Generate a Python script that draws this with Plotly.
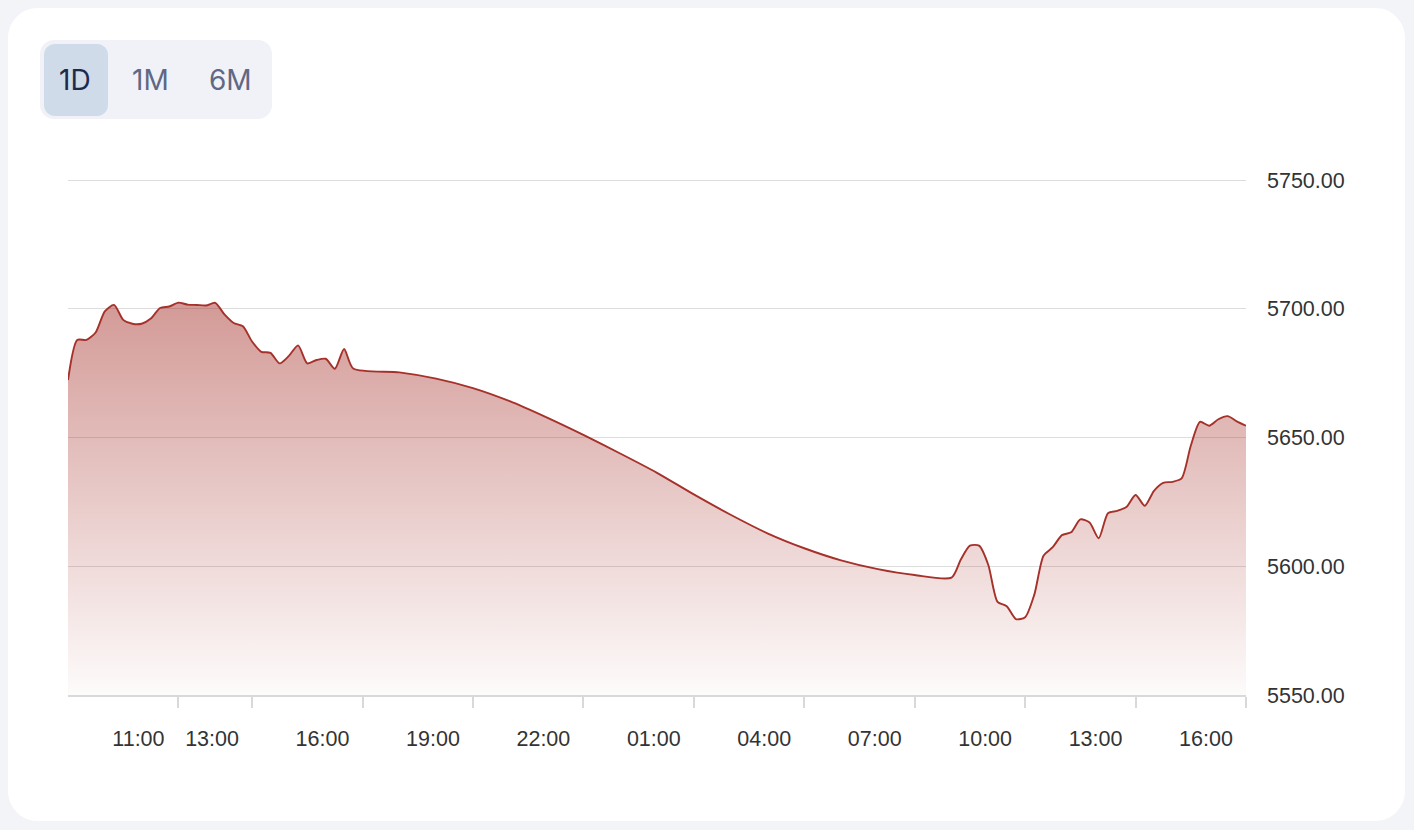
import plotly.graph_objects as go
import pandas as pd

# ---------------- data ----------------
day1_start = "2025-03-10 08:00"
day1_values = [5672.3, 5687.9, 5687.9, 5690.8, 5699.0, 5701.5, 5695.7, 5694.2,
               5694.2, 5696.2, 5700.3, 5700.9, 5702.4, 5701.6, 5701.5, 5701.3,
               5702.3, 5697.8, 5694.5, 5693.2, 5687.3, 5683.3, 5682.9, 5678.8,
               5681.7, 5685.8, 5678.8, 5680.1, 5680.6, 5676.7, 5684.4, 5676.8]

overnight_times = ["2025-03-10 17:00", "2025-03-10 18:00", "2025-03-10 19:00",
                   "2025-03-10 20:00", "2025-03-10 21:00", "2025-03-10 22:00",
                   "2025-03-10 23:00", "2025-03-11 00:00", "2025-03-11 01:00",
                   "2025-03-11 02:00", "2025-03-11 03:00", "2025-03-11 04:00",
                   "2025-03-11 05:00", "2025-03-11 06:00", "2025-03-11 07:00"]
overnight_values = [5675.3, 5672.9, 5669.2, 5664.1, 5657.8, 5651.0, 5643.8, 5636.3,
                    5627.9, 5620.0, 5612.8, 5607.0, 5602.3, 5598.9, 5596.6]

day2_start = "2025-03-11 08:00"
day2_values = [5595.6, 5602.5, 5608.0, 5608.0, 5600.5, 5586.2, 5584.5, 5579.5,
               5580.2, 5589.0, 5604.1, 5607.4, 5612.1, 5613.2, 5618.2, 5617.0,
               5610.9, 5620.6, 5621.5, 5623.0, 5627.7, 5623.5, 5629.3, 5632.4,
               5632.8, 5634.1, 5646.8, 5656.1, 5654.6, 5657.1, 5658.3, 5656.3,
               5654.6]

x_range = ["2025-03-10 08:00", "2025-03-11 16:00"]
tick_times = ["2025-03-10 11:00", "2025-03-10 13:00", "2025-03-10 16:00",
              "2025-03-10 19:00", "2025-03-10 22:00", "2025-03-11 01:00",
              "2025-03-11 04:00", "2025-03-11 07:00", "2025-03-11 10:00",
              "2025-03-11 13:00", "2025-03-11 16:00"]
tick_labels = ["11:00", "13:00", "16:00", "19:00", "22:00", "01:00",
               "04:00", "07:00", "10:00", "13:00", "16:00"]
y_range = [5550, 5750.8]
y_ticks = [5550, 5600, 5650, 5700, 5750]
y_tick_labels = ["5550.00", "5600.00", "5650.00", "5700.00", "5750.00"]
range_buttons = ["1D", "1M", "6M"]
active_button = "1D"

# ---------------- layout helpers ----------------
W, H = 1414, 830
ML, MR, MT, MB = 68, 168, 178, 135
PW, PH = W - ML - MR, H - MT - MB


def px(x):
    return (x - ML) / PW


def py(y):
    return (H - MB - y) / PH


def rrect(x0, y0, x1, y1, r):
    k = 0.5523 * r
    pts = [
        ("M", [(x0 + r, y0)]),
        ("L", [(x1 - r, y0)]),
        ("C", [(x1 - r + k, y0), (x1, y0 + r - k), (x1, y0 + r)]),
        ("L", [(x1, y1 - r)]),
        ("C", [(x1, y1 - r + k), (x1 - r + k, y1), (x1 - r, y1)]),
        ("L", [(x0 + r, y1)]),
        ("C", [(x0 + r - k, y1), (x0, y1 - r + k), (x0, y1 - r)]),
        ("L", [(x0, y0 + r)]),
        ("C", [(x0, y0 + r - k), (x0 + r - k, y0), (x0 + r, y0)]),
    ]
    s = ""
    for cmd, coords in pts:
        s += cmd + " ".join(f"{px(a):.6f},{py(b):.6f}" for a, b in coords)
    return s + "Z"


# ---------------- series ----------------
t1 = pd.date_range(day1_start, periods=len(day1_values), freq="15min")
t2 = pd.date_range(day2_start, periods=len(day2_values), freq="15min")
times = list(t1) + list(pd.to_datetime(overnight_times)) + list(t2)
values = day1_values + overnight_values + day2_values

line_color = "#a5312a"

fig = go.Figure()
fig.add_trace(go.Scatter(
    x=times, y=values, mode="lines",
    line=dict(color=line_color, width=1.9, shape="spline", smoothing=0.7),
    fill="tozeroy",
    fillgradient=dict(type="vertical",
                      colorscale=[[0, "rgba(165,49,42,0.02)"],
                                  [1, "rgba(165,49,42,0.50)"]],
                      start=5550, stop=5705),
    hoverinfo="skip", showlegend=False,
))

shapes = [
    dict(type="path", xref="paper", yref="paper", path=rrect(8, 8, 1405, 821, 30),
         fillcolor="#ffffff", line=dict(width=0), layer="below"),
    dict(type="path", xref="paper", yref="paper", path=rrect(40, 40, 272, 119, 14),
         fillcolor="#f0f2f7", line=dict(width=0), layer="below"),
    dict(type="path", xref="paper", yref="paper", path=rrect(44, 44, 108, 116, 11),
         fillcolor="#cfdbe8", line=dict(width=0), layer="below"),
]

button_centers = [75, 150, 230]
annotations = []
for name, cx in zip(range_buttons, button_centers):
    annotations.append(dict(
        x=px(cx), y=py(80), xref="paper", yref="paper", text=name, showarrow=False,
        xanchor="center", yanchor="middle",
        font=dict(family="Inter, Noto Sans, sans-serif", size=28,
                  color="#1e2a4c" if name == active_button else "#5f6884"),
    ))

axis_font = dict(family="Liberation Sans, Arial, Helvetica, sans-serif", size=21.5, color="#333333")

fig.update_layout(
    width=W, height=H,
    margin=dict(l=ML, r=MR, t=MT, b=MB, pad=0),
    paper_bgcolor="#f3f4f8",
    plot_bgcolor="rgba(0,0,0,0)",
    shapes=shapes,
    annotations=annotations,
    xaxis=dict(
        type="date", range=x_range, tickvals=tick_times, ticktext=tick_labels,
        ticks="outside", ticklen=11, tickwidth=1.5, tickcolor="#d9d9d9",
        showline=True, linecolor="#d9d9d9", linewidth=1.5,
        showgrid=False, zeroline=False, tickfont=axis_font,
        ticklabelshift=-40, ticklabelstandoff=12, fixedrange=True,
    ),
    yaxis=dict(
        side="right", range=y_range, tickvals=y_ticks, ticktext=y_tick_labels,
        showgrid=True, gridcolor="#dddddd", gridwidth=1.3, zeroline=False,
        showline=False, ticks="", tickfont=axis_font, ticklabelstandoff=20,
        fixedrange=True,
    ),
)

fig.write_html(
    "out.html",
    config={"displayModeBar": False},
    post_script="document.body.style.margin='0';document.body.style.overflow='hidden';"
                "document.body.style.background='#f3f4f8';",
)
